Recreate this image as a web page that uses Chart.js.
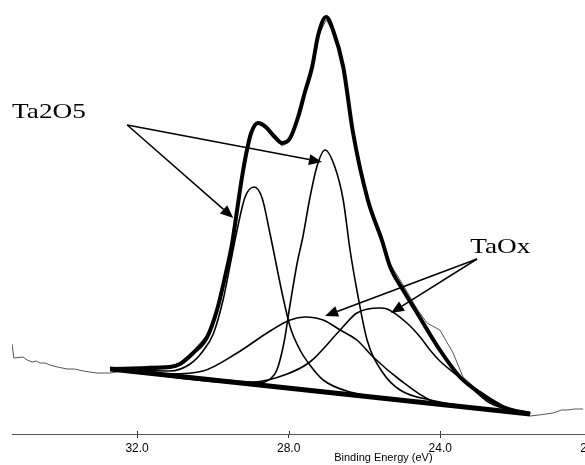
<!DOCTYPE html>
<html>
<head>
<meta charset="utf-8">
<script src="https://cdn.jsdelivr.net/npm/chart.js@4.4.0/dist/chart.umd.min.js"></script>
<style>
  body { margin: 0; background: #fff; }
  #box { width: 585px; height: 465px; }
</style>
</head>
<body>
<div id="box"><canvas id="grafico" width="585" height="465"></canvas></div>
<script>
// tick labels on the binding energy axis
const tickValues = [20, 24, 28, 32]

// measured spectrum
const rawEnergy = [35.30, 35.25, 35.01, 34.90, 34.77, 34.66, 34.56, 34.43, 34.30, 34.10, 33.85, 33.65, 33.42, 33.25, 33.06, 32.71,
    31.66, 31.13, 30.87, 30.52, 30.15, 29.89, 29.68, 29.49, 29.36, 29.23, 29.10, 28.99, 28.81, 28.60, 28.39, 28.17, 27.96,
    27.75, 27.57, 27.38, 27.22, 27.01, 26.83, 26.56, 26.30, 25.91, 25.54, 25.32, 24.98, 24.61, 24.35, 24.01, 23.66, 23.40,
    22.95, 22.34, 21.63, 21.40, 21.02, 20.80, 20.65, 20.45, 20.23]
const rawCounts = [90, 76, 77, 74, 72, 73, 71, 71, 69, 67, 65, 65, 63, 62, 61, 61,
    68, 68, 71, 83, 99, 126, 160, 193, 226, 258, 285, 302, 311, 305, 296, 288, 293,
    316, 341, 366, 398, 414, 403, 366, 300, 235, 196, 170, 149, 125, 111, 104, 81, 57,
    42, 28, 18, 19, 21, 24, 24, 25, 25]

// fitted envelope
const envelopeEnergy = [32.71, 31.66, 31.13, 30.87, 30.52, 30.15, 29.89, 29.68, 29.49, 29.36, 29.23, 29.10, 28.99, 28.81,
    28.60, 28.39, 28.17, 27.96, 27.75, 27.57, 27.38, 27.22, 27.01, 26.83, 26.56, 26.30, 25.91, 25.54, 25.32, 24.98,
    24.61, 24.01, 23.48, 22.95, 22.34, 21.63]
const envelopeCounts = [65, 66, 67, 70, 81, 97, 124, 157, 191, 224, 257, 284, 301, 311,
    307, 298, 291, 296, 317, 342, 367, 399, 417, 404, 367, 301, 234, 194, 167, 144,
    121, 84, 57, 41, 27, 20]

// background
const baselineEnergy = [32.71, 21.63]
const baselineCounts = [65, 20]

// Ta2O5 doublet
const ta2o5aEnergy = [32.71, 31.13, 30.60, 30.26, 29.99, 29.73, 29.55, 29.36, 29.15, 28.91, 28.70, 28.49, 28.15, 27.96,
    27.70, 27.44, 27.09, 26.38, 25.06, 21.63]
const ta2o5aCounts = [65, 63, 70, 83, 100, 134, 168, 204, 237, 247, 236, 200, 137, 107,
    84, 69, 54, 42, 35, 20]

const ta2o5bEnergy = [32.71, 29.20, 28.80, 28.49, 28.31, 28.12, 27.96, 27.78, 27.62, 27.44, 27.25, 27.04, 26.78, 26.56, 26.38,
    26.20, 25.93, 25.51, 25.06, 24.27, 22.95, 21.63]
const ta2o5bCounts = [65, 51, 51, 55, 64, 92, 130, 170, 198, 236, 268, 284, 267, 234, 184,
    144, 94, 61, 44, 34, 26, 20]

// TaOx doublet
const taoxaEnergy = [32.71, 31.66, 31.13, 30.26, 29.36, 28.49, 27.96, 27.57, 27.09, 26.64, 26.20, 25.77, 25.06, 24.27, 22.95, 21.63]
const taoxaCounts = [65, 61, 60, 63, 81, 103, 114, 117, 114, 104, 94, 77, 54, 34, 26, 20]

const taoxbEnergy = [32.71, 29.99, 28.94, 28.04, 27.44, 26.64, 26.20, 25.59, 25.40, 24.88, 24.53, 24.27, 24.01, 23.40, 22.69, 21.63]
const taoxbCounts = [65, 55, 52, 60, 72, 104, 121, 126, 125, 111, 97, 84, 73, 54, 31, 20]

// annotations (energy, counts)
const rotulos = ['Ta2O5', 'TaOx']
const rotuloPos = [[35.3, 316], [23.21, 181]]
const setaOrigem = [[32.26, 309], [23.03, 175]]
const setaPontas = [
    [[29.46, 216], [27.12, 272]],
    [[27.04, 118], [25.30, 121]]
]
const tituloEixo = 'Binding Energy (eV)'
const tituloEnergia = 25.5

function pontos(energia, contagem) {
    return energia.map((e, i) => ({ x: e, y: contagem[i] }))
}

function desenharSeta(ctx, x0, y0, x1, y1) {
    const ang = Math.atan2(y1 - y0, x1 - x0)
    const len = 13
    const half = 5.5
    const bx = x1 - len * Math.cos(ang)
    const by = y1 - len * Math.sin(ang)
    ctx.beginPath()
    ctx.moveTo(x0, y0)
    ctx.lineTo(bx, by)
    ctx.stroke()
    ctx.beginPath()
    ctx.moveTo(x1, y1)
    ctx.lineTo(bx + half * Math.sin(ang), by - half * Math.cos(ang))
    ctx.lineTo(bx - half * Math.sin(ang), by + half * Math.cos(ang))
    ctx.closePath()
    ctx.fill()
}

const anotacoes = {
    id: 'anotacoes',
    afterDraw(chart) {
        const ctx = chart.ctx
        const x = chart.scales.x
        const y = chart.scales.y
        const area = chart.chartArea
        ctx.save()

        // tick marks also above the axis line
        ctx.strokeStyle = '#333'
        ctx.lineWidth = 1
        tickValues.forEach(v => {
            const px = Math.round(x.getPixelForValue(v)) + 0.5
            ctx.beginPath()
            ctx.moveTo(px, area.bottom - 3)
            ctx.lineTo(px, area.bottom)
            ctx.stroke()
        })

        // axis title
        ctx.fillStyle = '#000'
        ctx.font = '11px "Liberation Sans", Arial, sans-serif'
        ctx.textAlign = 'center'
        ctx.textBaseline = 'alphabetic'
        ctx.fillText(tituloEixo, x.getPixelForValue(tituloEnergia), 461)

        // arrows
        ctx.strokeStyle = '#000'
        ctx.fillStyle = '#000'
        ctx.lineWidth = 1.5
        setaOrigem.forEach((o, i) => {
            const x0 = x.getPixelForValue(o[0])
            const y0 = y.getPixelForValue(o[1])
            setaPontas[i].forEach(p => {
                desenharSeta(ctx, x0, y0, x.getPixelForValue(p[0]), y.getPixelForValue(p[1]))
            })
        })

        // labels
        ctx.font = '21px "Liberation Serif", "DejaVu Serif", serif'
        ctx.textAlign = 'left'
        rotulos.forEach((t, i) => {
            ctx.save()
            ctx.translate(x.getPixelForValue(rotuloPos[i][0]), y.getPixelForValue(rotuloPos[i][1]))
            ctx.scale(1.3, 1)
            ctx.fillText(t, 0, 0)
            ctx.restore()
        })
        ctx.restore()
    }
}

const ctx = document.getElementById('grafico').getContext('2d')

const linha = (data, width, color, smooth) => ({
    data: data,
    borderColor: color,
    borderWidth: width,
    pointRadius: 0,
    fill: false,
    tension: 0,
    cubicInterpolationMode: smooth ? 'monotone' : 'default'
})

const grafico = new Chart(ctx, {
    type: 'line',
    data: {
        datasets: [
            linha(pontos(baselineEnergy, baselineCounts), 5, '#000', false),
            linha(pontos(envelopeEnergy, envelopeCounts), 4, '#000', true),
            linha(pontos(ta2o5aEnergy, ta2o5aCounts), 1.6, '#000', true),
            linha(pontos(ta2o5bEnergy, ta2o5bCounts), 1.6, '#000', true),
            linha(pontos(taoxaEnergy, taoxaCounts), 1.6, '#000', true),
            linha(pontos(taoxbEnergy, taoxbCounts), 1.6, '#000', true),
            linha(pontos(rawEnergy, rawCounts), 1, '#555', false)
        ]
    },
    options: {
        responsive: false,
        animation: false,
        devicePixelRatio: 1,
        layout: { padding: { left: 12, right: 0, top: 0, bottom: 0 } },
        plugins: { legend: { display: false }, tooltip: { enabled: false } },
        scales: {
            x: {
                type: 'linear',
                reverse: true,
                min: 20.18,
                max: 35.3,
                afterBuildTicks: s => { s.ticks = tickValues.map(v => ({ value: v })) },
                afterFit: s => { s.height = 31; s.paddingLeft = 0; s.paddingRight = 0 },
                ticks: {
                    autoSkip: false,
                    maxRotation: 0,
                    color: '#000',
                    padding: 3,
                    font: { family: '"Liberation Sans", Arial, sans-serif', size: 12 },
                    callback: v => v.toFixed(1)
                },
                grid: { drawOnChartArea: false, drawTicks: true, tickLength: 4, color: '#333' },
                border: { display: true, color: '#555', width: 1 }
            },
            y: { display: false, min: 0, max: 434 }
        }
    },
    plugins: [anotacoes]
})
</script>
</body>
</html>
